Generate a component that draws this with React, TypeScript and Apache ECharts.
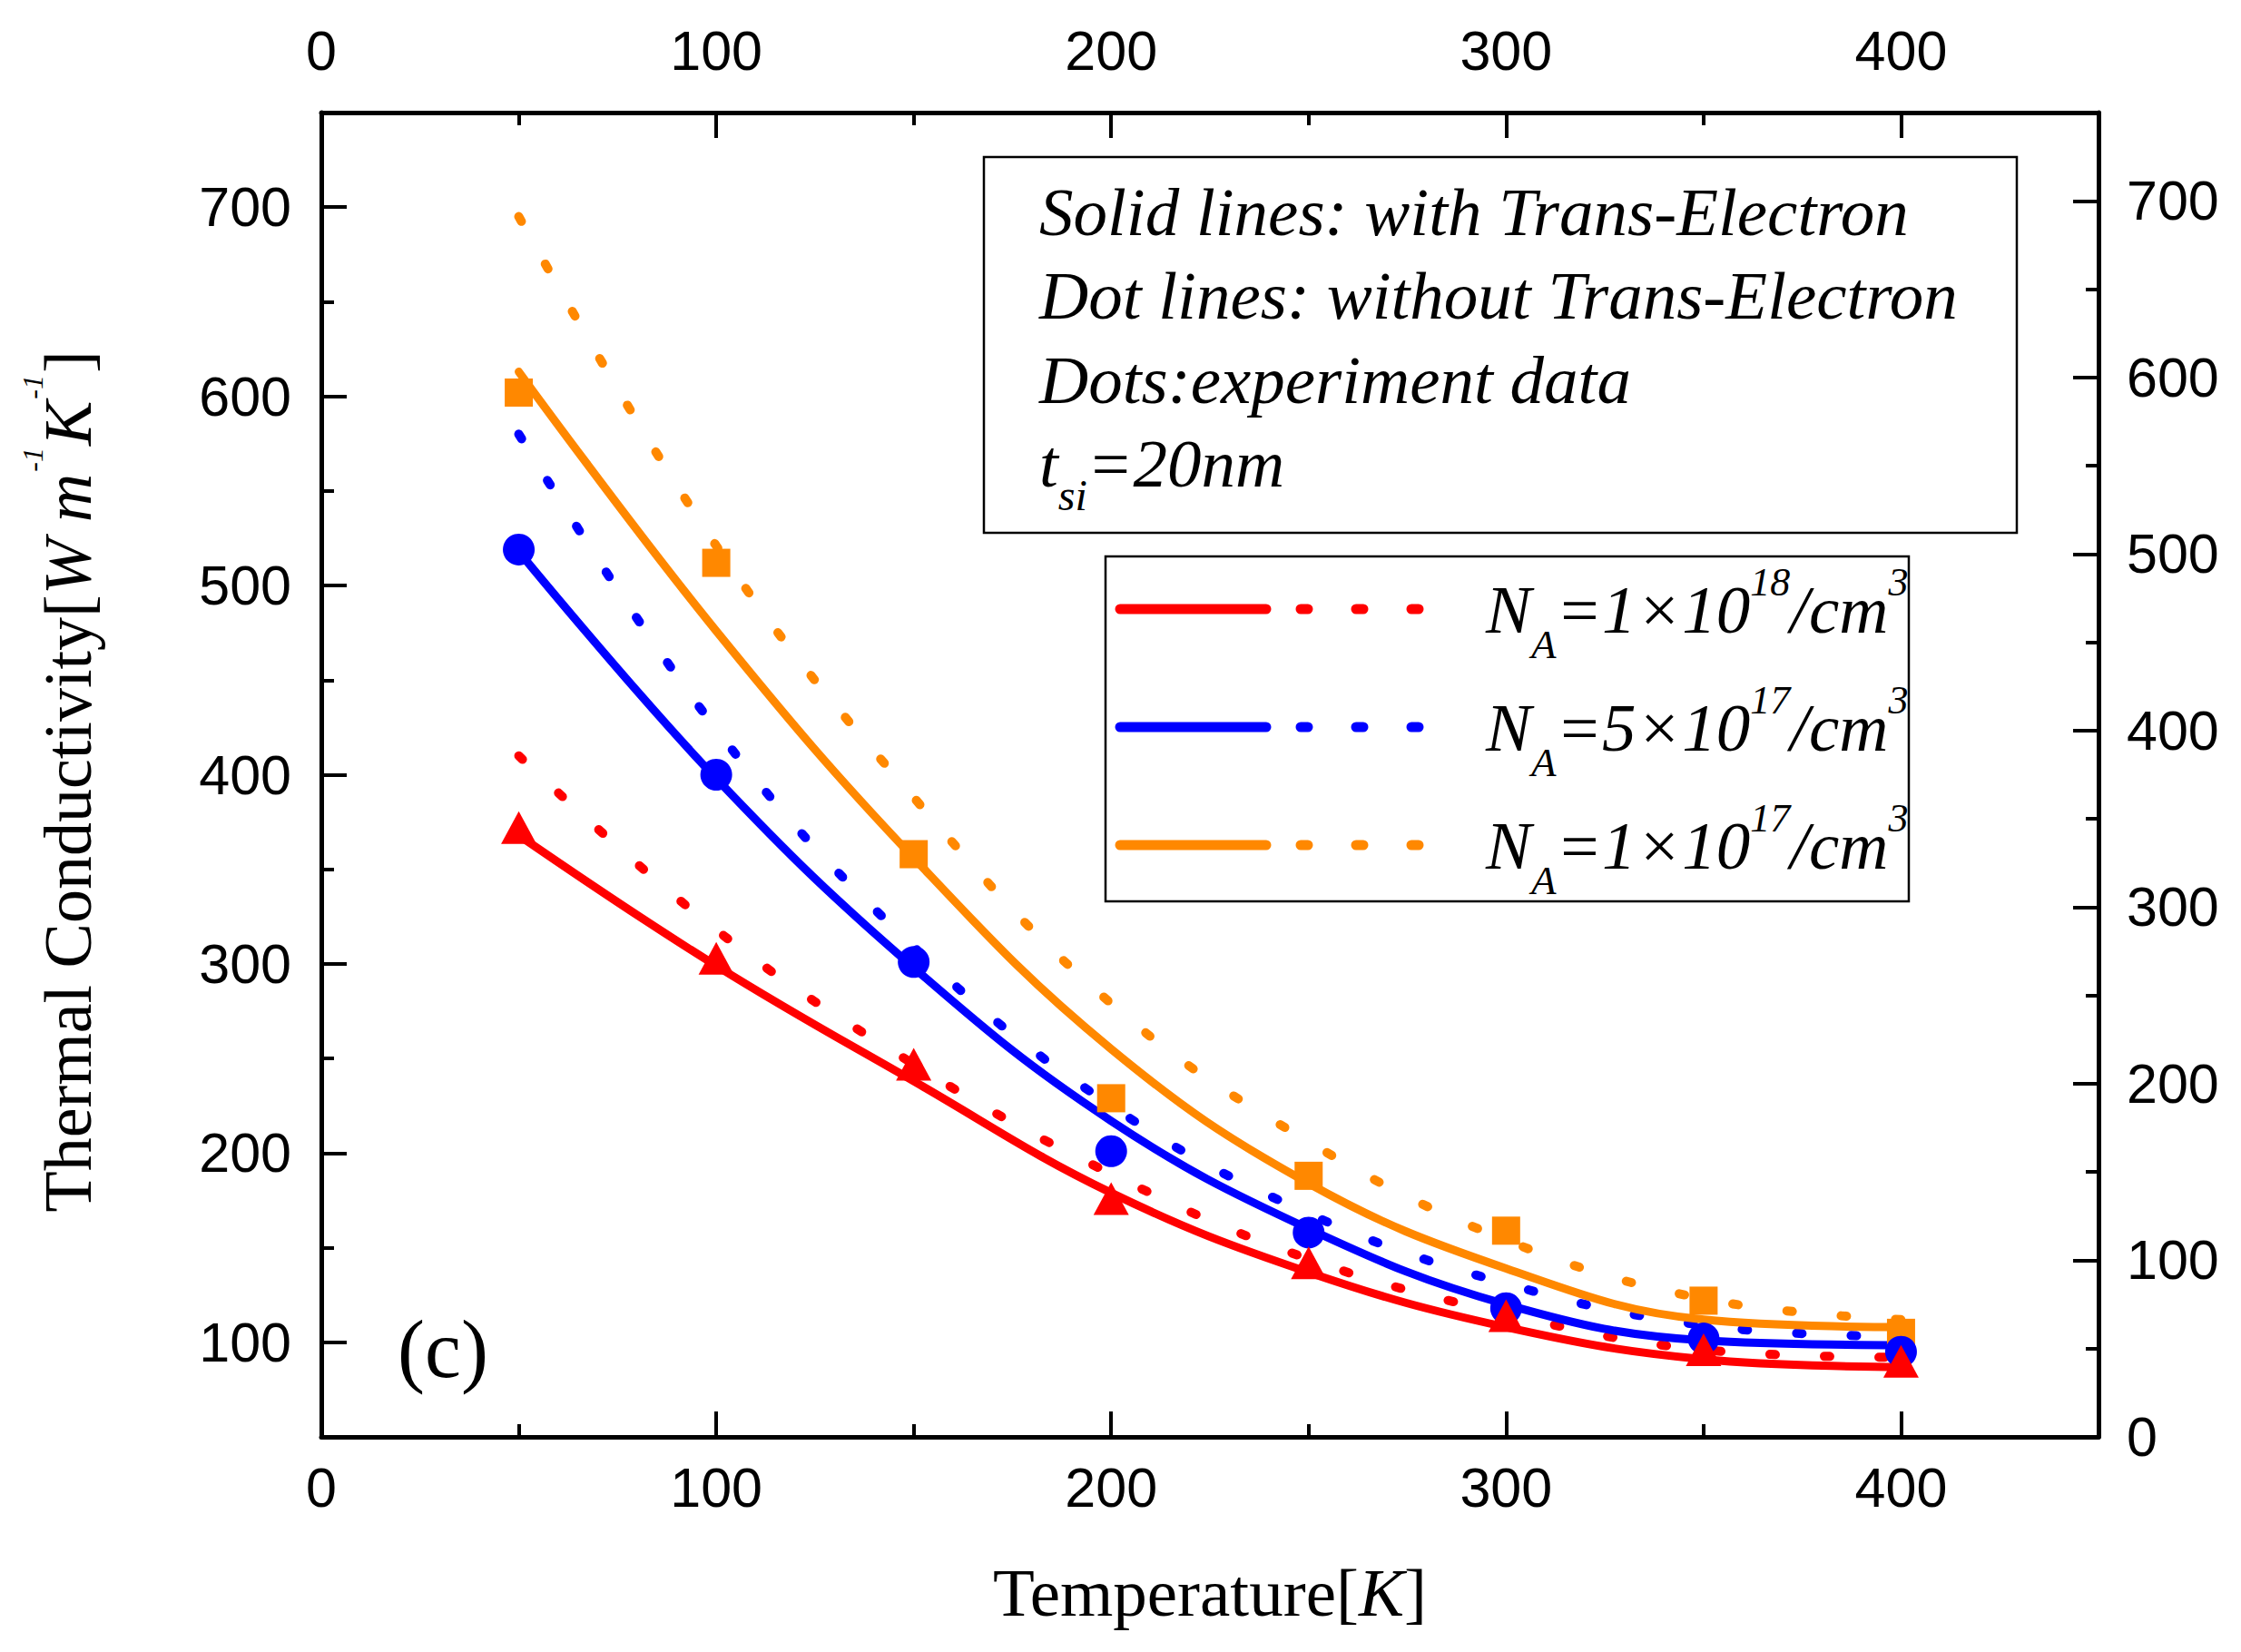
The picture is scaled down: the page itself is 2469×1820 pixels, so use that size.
import React, { useEffect, useRef } from "react";
import * as echarts from "echarts";

// ---- data ----
const temps = [50, 100, 150, 200, 250, 300, 350, 400];

const red18Solid = [368, 299, 238, 179, 137, 108, 91, 87];
const red18Dot = [410, 318, 247, 189, 144, 115, 96, 92];
const red18Exp = [372, 303, 247, 176, 142, 114, 96, 90];

const blue5e17Solid = [518, 398, 298, 217, 160, 120, 101, 98.5];
const blue5e17Dot = [580, 424, 309, 225, 168, 131, 109, 103];
const blue5e17Exp = [519, 400, 301, 201, 158, 118, 102, 95];

const orange1e17Solid = [613, 476, 356, 255, 184, 139, 112, 108];
const orange1e17Dot = [695, 521, 388, 279, 206, 154, 123, 112];
const orange1e17Exp = [602, 512, 358, 229, 188, 159, 122, 105];

// ---- ticks ----
const xLabels = [0, 100, 200, 300, 400];
const xMajor = [100, 200, 300, 400];
const xMinor = [50, 150, 250, 350];
const leftLabels = [100, 200, 300, 400, 500, 600, 700];
const leftMinor = [150, 250, 350, 450, 550, 650];
const rightLabels = [0, 100, 200, 300, 400, 500, 600, 700];
const rightMajor = [100, 200, 300, 400, 500, 600, 700];
const rightMinor = [50, 150, 250, 350, 450, 550, 650];

const RED = "#FF0000";
const BLUE = "#0000FF";
const ORANGE = "#FF8800";

const SANS = "'Liberation Sans', Arial, sans-serif";
const SERIF = "'Liberation Serif', 'Times New Roman', serif";

const pts = (vals: number[]) => temps.map((t, i) => [t, vals[i]]);

function axisBase(pos: string, min: number, max: number) {
  return {
    type: "value",
    position: pos,
    min,
    max,
    splitLine: { show: false },
    axisPointer: { show: false },
  };
}

function mainAxis(pos: string, min: number, max: number, labels: number[], ticks: number[], margin: number) {
  return {
    ...axisBase(pos, min, max),
    axisLine: { show: true, onZero: false, lineStyle: { color: "#000", width: 5 } },
    axisTick: { show: true, inside: true, length: 28, customValues: ticks, lineStyle: { color: "#000", width: 4 } },
    axisLabel: {
      show: true,
      customValues: labels,
      margin,
      color: "#000",
      fontSize: 61,
      fontFamily: SANS,
    },
  };
}

function minorAxis(pos: string, min: number, max: number, ticks: number[]) {
  return {
    ...axisBase(pos, min, max),
    axisLine: { show: false, onZero: false },
    axisTick: { show: true, inside: true, length: 14, customValues: ticks, lineStyle: { color: "#000", width: 4 } },
    axisLabel: { show: false },
  };
}

function solidLine(vals: number[], color: string) {
  return {
    type: "line",
    data: pts(vals),
    smooth: 0.4,
    showSymbol: false,
    symbol: "none",
    lineStyle: { color, width: 9, cap: "round" },
    z: 3,
  };
}

function dotLine(vals: number[], color: string) {
  return {
    type: "line",
    data: pts(vals),
    smooth: 0.4,
    showSymbol: false,
    symbol: "none",
    lineStyle: { color, width: 10, type: [6, 54], cap: "round" },
    z: 2,
  };
}

function expScatter(vals: number[], color: string, symbol: string, size: any) {
  return {
    type: "scatter",
    data: pts(vals),
    symbol,
    symbolSize: size,
    itemStyle: { color, opacity: 1 },
    z: 4,
  };
}

const it = (size: number, extra: any = {}) => ({
  fontFamily: SERIF,
  fontStyle: "italic",
  fontSize: size,
  fill: "#000",
  color: "#000",
  ...extra,
});
const nm = (size: number, extra: any = {}) => ({
  fontFamily: SERIF,
  fontStyle: "normal",
  fontSize: size,
  fill: "#000",
  color: "#000",
  ...extra,
});

function textEl(x: number, y: number, text: string, rich: any, extra: any = {}) {
  return {
    type: "text",
    x,
    y,
    z: 20,
    style: {
      text,
      rich,
      align: "left",
      verticalAlign: "middle",
      fill: "#000",
    },
    ...extra,
  };
}

function legendRow(y: number, color: string, coef: string, exp: string) {
  return [
    {
      type: "line",
      z: 20,
      shape: { x1: 1234, y1: y, x2: 1395, y2: y },
      style: { stroke: color, lineWidth: 11, lineCap: "round" },
    },
    {
      type: "line",
      z: 20,
      shape: { x1: 1433, y1: y, x2: 1564, y2: y },
      style: { stroke: color, lineWidth: 11, lineCap: "round", lineDash: [8, 53] },
    },
    textEl(1637, y, `{m|N}{sub|A}{m|=${coef}×10}{sup|${exp}}{m|/cm}{sup|3}`, {
      m: it(75, { lineHeight: 140, verticalAlign: "middle" }),
      sub: it(45, { verticalAlign: "bottom", padding: [0, 0, 9, 0] }),
      sup: it(44, { verticalAlign: "top", padding: [18, 0, 0, 0] }),
    }),
  ];
}

export default function App() {
  const ref = useRef<HTMLDivElement>(null);

  useEffect(() => {
    if (!ref.current) return;
    const chart = echarts.init(ref.current, undefined, { renderer: "svg" });

    const option: any = {
      animation: false,
      backgroundColor: "#fff",
      grid: { left: 354, right: 157, top: 124, bottom: 237, containLabel: false },
      xAxis: [
        mainAxis("bottom", 0, 450, xLabels, xMajor, 25),
        minorAxis("bottom", 0, 450, xMinor),
        mainAxis("top", 0, 450, xLabels, xMajor, 38),
        minorAxis("top", 0, 450, xMinor),
      ],
      yAxis: [
        mainAxis("left", 50, 750, leftLabels, leftLabels, 33),
        minorAxis("left", 50, 750, leftMinor),
        mainAxis("right", 0, 750, rightLabels, rightMajor, 31),
        minorAxis("right", 0, 750, rightMinor),
      ],
      series: [
        dotLine(red18Dot, RED),
        dotLine(blue5e17Dot, BLUE),
        dotLine(orange1e17Dot, ORANGE),
        solidLine(red18Solid, RED),
        solidLine(blue5e17Solid, BLUE),
        solidLine(orange1e17Solid, ORANGE),
        expScatter(orange1e17Exp, ORANGE, "rect", 31),
        expScatter(blue5e17Exp, BLUE, "circle", 35),
        expScatter(red18Exp, RED, "triangle", [39, 36]),
      ],
      graphic: [
        {
          type: "rect",
          z: 10,
          shape: { x: 1084, y: 173, width: 1138, height: 414 },
          style: { fill: "#fff", stroke: "#000", lineWidth: 2.5 },
        },
        textEl(1145, 233, "{m|Solid lines: with Trans-Electron}", { m: it(75, { lineHeight: 100 }) }),
        textEl(1145, 325, "{m|Dot lines: without Trans-Electron}", { m: it(75, { lineHeight: 100 }) }),
        textEl(1145, 418, "{m|Dots:experiment data}", { m: it(75, { lineHeight: 100 }) }),
        textEl(1145, 510, "{m|t}{sub|si}{m|=20nm}", {
          m: it(75, { lineHeight: 140, verticalAlign: "middle" }),
          sub: it(48, { verticalAlign: "bottom", padding: [0, 0, 11, 0] }),
        }),
        {
          type: "rect",
          z: 10,
          shape: { x: 1218, y: 613, width: 885, height: 380 },
          style: { fill: "#fff", stroke: "#000", lineWidth: 2.5 },
        },
        ...legendRow(671, RED, "1", "18"),
        ...legendRow(801, BLUE, "5", "17"),
        ...legendRow(931, ORANGE, "1", "17"),
        textEl(438, 1486, "{m|(c)}", { m: nm(90, { lineHeight: 110 }) }),
        {
          type: "text",
          x: 1333,
          y: 1754,
          z: 20,
          style: {
            text: "{m|Temperature[}{i|K}{m|]}",
            rich: { m: nm(75, { lineHeight: 100 }), i: it(75, { lineHeight: 100 }) },
            align: "center",
            verticalAlign: "middle",
            fill: "#000",
          },
        },
        {
          type: "text",
          x: 75,
          y: 861,
          rotation: Math.PI / 2,
          z: 20,
          style: {
            text: "{m|Thermal Conductivity[}{i|W m}{s|-1}{i|K}{s|-1}{m|]}",
            rich: {
              m: nm(74, { lineHeight: 140, verticalAlign: "middle" }),
              i: it(74, { lineHeight: 140, verticalAlign: "middle" }),
              s: it(32, { verticalAlign: "top", padding: [15, 2, 0, 2] }),
            },
            align: "center",
            verticalAlign: "middle",
            fill: "#000",
          },
        },
      ],
    };

    chart.setOption(option);
    return () => chart.dispose();
  }, []);

  return (
    <div
      ref={ref}
      style={{ position: "absolute", left: 0, top: 0, width: 2469, height: 1820, background: "#fff" }}
    />
  );
}
